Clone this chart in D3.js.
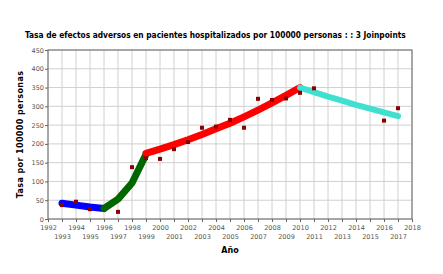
<!DOCTYPE html>
<html>
<head>
<meta charset="utf-8">
<script src="https://cdn.jsdelivr.net/npm/d3@7"></script>
<style>
  body { margin: 0; background: #fff; }
  svg { display: block; }
</style>
</head>
<body>
<div id="chart"></div>
<script>
// observed rates (points)
const obsYears = [1993, 1994, 1995, 1997, 1998, 1999, 2000, 2001, 2002, 2003, 2004, 2005, 2006, 2007, 2008, 2009, 2010, 2011, 2016, 2017];
const obsRates = [37, 46, 26, 19, 138, 162, 160, 186, 205, 243, 246, 264, 243, 320, 317, 321, 336, 348, 262, 295];

// fitted joinpoint segments
const seg1Years = [1993, 1994, 1995, 1996];
const seg1Rates = [42, 37, 32, 28];
const seg2Years = [1996, 1997, 1998, 1999];
const seg2Rates = [28, 53, 96, 172];
const seg3Years = [1999, 2000, 2001, 2002, 2003, 2004, 2005, 2006, 2007, 2008, 2009, 2010];
const seg3Rates = [175, 186, 198, 211, 225, 240, 255, 272, 290, 309, 329, 350];
const seg4Years = [2010, 2011, 2012, 2013, 2014, 2015, 2016, 2017];
const seg4Rates = [350, 338, 326, 315, 304, 294, 284, 274];

const segColors = ["#0000ff", "#006600", "#ff0000", "#40e0d0"];
const yTicks = [0, 50, 100, 150, 200, 250, 300, 350, 400, 450];

const W = 443, H = 274;
const margin = {left: 48, right: 31, top: 50, bottom: 55};

const svg = d3.select("#chart").append("svg").attr("width", W).attr("height", H);

const x = d3.scaleLinear().domain([1992, 2018]).range([margin.left, W - margin.right]);
const y = d3.scaleLinear().domain([0, 450]).range([H - margin.bottom, margin.top]);

// grid
const years = d3.range(1992, 2019);
svg.append("g").selectAll("line").data(years).enter().append("line")
  .attr("x1", d => x(d)).attr("x2", d => x(d))
  .attr("y1", y(0)).attr("y2", y(450))
  .attr("stroke", "#d0d0d0").attr("stroke-width", 1);
svg.append("g").selectAll("line").data(yTicks).enter().append("line")
  .attr("x1", x(1992)).attr("x2", x(2018))
  .attr("y1", d => y(d)).attr("y2", d => y(d))
  .attr("stroke", "#d0d0d0").attr("stroke-width", 1);

// frame
svg.append("rect")
  .attr("x", x(1992)).attr("y", y(450))
  .attr("width", x(2018) - x(1992)).attr("height", y(0) - y(450))
  .attr("fill", "none").attr("stroke", "#666").attr("stroke-width", 1);

// y axis
const yAxis = svg.append("g")
  .attr("transform", `translate(${x(1992)},0)`)
  .call(d3.axisLeft(y).tickValues(yTicks).tickSize(3).tickPadding(1));
yAxis.select(".domain").remove();
yAxis.selectAll("line").attr("stroke", "#666");
yAxis.selectAll("text").attr("fill", "#555").style("font", "6.5px 'DejaVu Sans', sans-serif");

// x axis: even years on first row, odd years lower
const xAxis = svg.append("g")
  .attr("transform", `translate(0,${y(0)})`)
  .call(d3.axisBottom(x).tickValues(years).tickFormat(d3.format("d")).tickSize(3).tickPadding(3));
xAxis.select(".domain").remove();
xAxis.selectAll("line").attr("stroke", "#666");
xAxis.selectAll("text")
  .attr("fill", "#555")
  .style("font", "6.5px 'DejaVu Sans', sans-serif")
  .attr("dy", d => d % 2 === 0 ? "0.71em" : "2.2em");

// fitted lines
const line = d3.line().x(d => x(d[0])).y(d => y(d[1]));
const segs = [
  d3.zip(seg1Years, seg1Rates),
  d3.zip(seg2Years, seg2Rates),
  d3.zip(seg3Years, seg3Rates),
  d3.zip(seg4Years, seg4Rates)
];
const widths = [7, 7, 7, 6];
segs.forEach((s, i) => {
  svg.append("path")
    .attr("d", line(s))
    .attr("fill", "none")
    .attr("stroke", segColors[i])
    .attr("stroke-width", widths[i])
    .attr("stroke-linecap", "round")
    .attr("stroke-linejoin", "round");
});

// observed points
svg.append("g").selectAll("rect").data(d3.zip(obsYears, obsRates)).enter().append("rect")
  .attr("x", d => x(d[0]) - 2).attr("y", d => y(d[1]) - 2)
  .attr("width", 4).attr("height", 4)
  .attr("fill", "#8b0000");

// title, shrunk until it fits the same width as the reference
const title = svg.append("text")
  .attr("x", 25).attr("y", 38)
  .style("font-family", "'DejaVu Sans Condensed', 'DejaVu Sans', sans-serif")
  .style("font-weight", "bold")
  .text("Tasa de efectos adversos en pacientes hospitalizados por 100000 personas :  : 3 Joinpoints");
let fs = 10;
title.style("font-size", fs + "px");
while (title.node().getComputedTextLength() > 382 && fs > 6) {
  fs -= 0.1;
  title.style("font-size", fs + "px");
}

// axis titles
svg.append("text")
  .attr("x", (x(1992) + x(2018)) / 2).attr("y", 253)
  .attr("text-anchor", "middle")
  .style("font", "bold 8px 'DejaVu Sans', sans-serif")
  .text("Año");

svg.append("text")
  .attr("transform", `translate(23,${(y(0) + y(450)) / 2}) rotate(-90)`)
  .attr("text-anchor", "middle")
  .style("font", "bold 8px 'DejaVu Sans', sans-serif")
  .style("letter-spacing", "0.4px")
  .text("Tasa por 100000 personas");
</script>
</body>
</html>
